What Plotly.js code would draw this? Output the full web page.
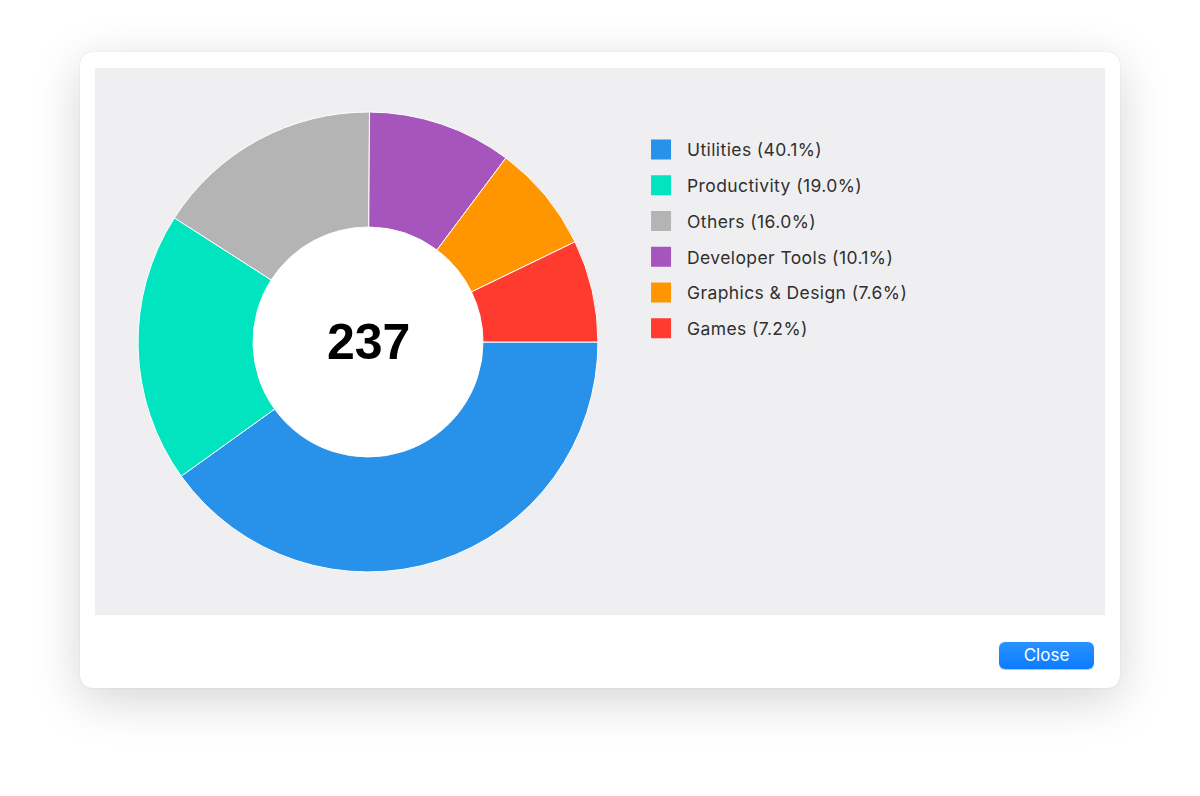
<!DOCTYPE html>
<html>
<head>
<meta charset="utf-8">
<script src="https://cdn.plot.ly/plotly-3.0.1.min.js"></script>
<style>
  html, body { margin: 0; padding: 0; background: #ffffff; width: 1200px; height: 796px; overflow: hidden; }
  #win {
    position: absolute; left: 80px; top: 52px; width: 1040px; height: 636px;
    background: #ffffff; border-radius: 12px;
    box-shadow: 0 0 1px rgba(0,0,0,0.2), 0 12px 48px rgba(0,0,0,0.17);
  }
  #chart { position: absolute; left: 15px; top: 16px; width: 1010px; height: 547px; }
  #close {
    position: absolute; left: 919px; top: 590px; width: 95px; height: 27px;
    border-radius: 6px; background: linear-gradient(#2a92ff, #0b7cff);
    color: #fff; font-family: "Inter", "Liberation Sans", sans-serif; font-size: 17px;
    line-height: 27px; text-align: center; box-shadow: 0 0.5px 1px rgba(0,0,0,0.25);
  }
  #chart .legendtext { letter-spacing: 0.4px; }
  #chart .legend .scrollbox { clip-path: none; }
</style>
</head>
<body>
<div id="win">
  <div id="chart"></div>
  <div id="close">Close</div>
</div>
<script>
const categories = ["Utilities", "Productivity", "Others", "Developer Tools", "Graphics & Design", "Games"];
const counts = [95, 45, 38, 24, 18, 17];
const colors = ["#2892EA", "#00E5BF", "#B4B4B4", "#A555BC", "#FF9500", "#FF3B30"];

const total = counts.reduce((a, b) => a + b, 0);
const legendLabels = categories.map((c, i) => c + " (" + (100 * counts[i] / total).toFixed(1) + "%)");

const W = 1010, H = 547;
const pieDomain = { x: [0.0426, 0.4980], y: [0.0786, 0.9196] };
const holeFrac = 0.5;

// pie geometry (for the white hole disc)
const cxPx = (pieDomain.x[0] + pieDomain.x[1]) / 2 * W;
const cyPx = (pieDomain.y[0] + pieDomain.y[1]) / 2 * H;
const rOut = Math.min((pieDomain.x[1] - pieDomain.x[0]) * W, (pieDomain.y[1] - pieDomain.y[0]) * H) / 2;
const rIn = rOut * holeFrac;

const traces = [{
  type: "pie",
  labels: categories,
  values: counts,
  marker: { colors: colors, line: { color: "#ffffff", width: 1 } },
  hole: holeFrac,
  sort: false,
  direction: "clockwise",
  rotation: 90,
  textinfo: "none",
  hoverinfo: "label+value+percent",
  showlegend: false,
  domain: pieDomain
}];

categories.forEach((c, i) => {
  traces.push({
    type: "scatter",
    mode: "markers",
    x: [null], y: [null],
    name: legendLabels[i],
    legendgroup: "g" + i,
    marker: { symbol: "square", size: 16, color: colors[i], line: { color: colors[i], width: 4 } },
    showlegend: true,
    hoverinfo: "skip"
  });
});

const layout = {
  width: W, height: H,
  margin: { l: 0, r: 0, t: 0, b: 0 },
  paper_bgcolor: "#EFEFF2",
  plot_bgcolor: "#EFEFF2",
  xaxis: { visible: false, domain: [0.99, 1] },
  yaxis: { visible: false, domain: [0.99, 1] },
  showlegend: true,
  legend: {
    x: 0.5347, y: 0.8835, xanchor: "left", yanchor: "top",
    bgcolor: "rgba(0,0,0,0)",
    itemwidth: 42,
    font: { family: "Inter, 'Liberation Sans', sans-serif", size: 17.5, color: "#2f2f2f" },
    tracegroupgap: 10,
    itemclick: false, itemdoubleclick: false
  },
  shapes: [{
    type: "circle", xref: "paper", yref: "paper", layer: "below",
    x0: (cxPx - rIn) / W, x1: (cxPx + rIn) / W,
    y0: (cyPx - rIn) / H, y1: (cyPx + rIn) / H,
    fillcolor: "#ffffff", line: { width: 0 }
  }],
  annotations: [{
    xref: "paper", yref: "paper",
    x: cxPx / W, y: cyPx / H, xanchor: "center", yanchor: "middle",
    text: "<b>" + total + "</b>", showarrow: false,
    font: { family: "'Liberation Sans', Arial, sans-serif", size: 50, color: "#000000" }
  }]
};

Plotly.newPlot("chart", traces, layout, { displayModeBar: false });
</script>
</body>
</html>
